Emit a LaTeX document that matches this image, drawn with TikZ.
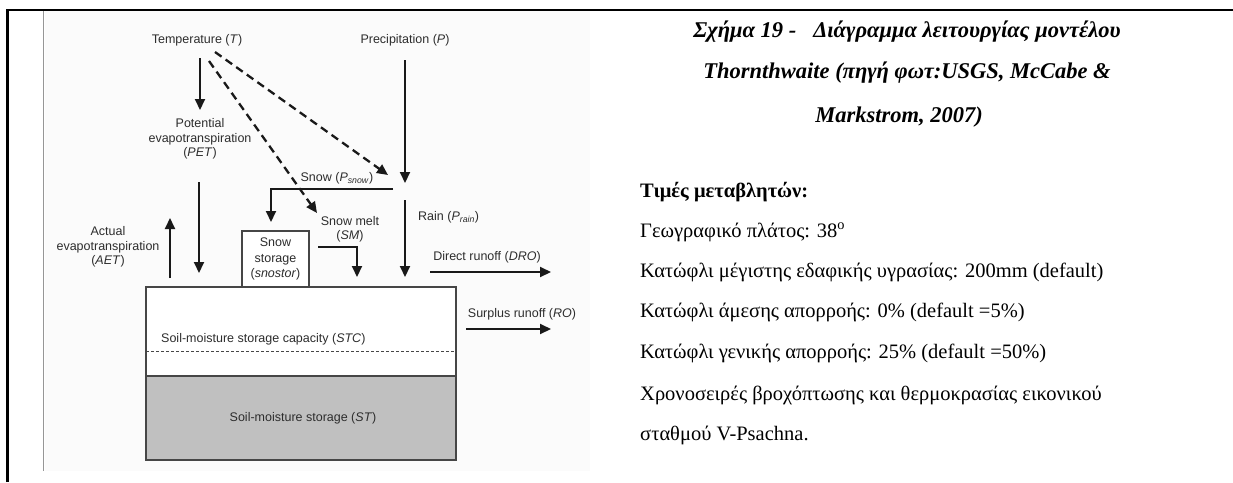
\documentclass[tikz,border=0pt]{standalone}
\usepackage{fontspec}
\setmainfont{Liberation Serif}
\newfontfamily\diagfont{Liberation Sans}
\usetikzlibrary{arrows.meta}
\definecolor{txtgray}{RGB}{45,45,45}
\definecolor{soilgray}{RGB}{192,192,192}
\definecolor{photobg}{RGB}{251,251,251}
\definecolor{edgegray}{RGB}{70,70,70}
\definecolor{sepgray}{RGB}{150,150,150}
\begin{document}
\begin{tikzpicture}[x=1pt,y=-1pt,
  lbl/.style={font=\diagfont\fontsize{12.5}{14.5}\selectfont, text=txtgray, inner sep=0pt, align=center},
  flow/.style={line width=2pt, draw=black!90, -{Triangle[length=11pt,width=10pt]}},
  dflow/.style={line width=2.3pt, draw=black!90, dash pattern=on 8pt off 5pt, -{Triangle[length=11pt,width=10pt]}},
  boxline/.style={draw=edgegray, line width=1.3pt},
  titletext/.style={font=\bfseries\itshape\fontsize{22.5}{27}\selectfont, inner sep=0pt},
  bodytext/.style={font=\fontsize{20.5}{24}\selectfont, inner sep=0pt, anchor=west}
]
\useasboundingbox (0,0) rectangle (1233,482);
% page frame
\fill[photobg] (44.5,11) rectangle (590,471);
\draw[line width=2.5pt] (7.5,482) -- (7.5,10) -- (1233,10);
\draw[sepgray, line width=1.5pt] (43.5,11) -- (43.5,471);

% soil boxes
\draw[boxline, fill=white] (146,287) rectangle (456,376);
\draw[boxline, fill=soilgray] (146,376) rectangle (456,460);
\draw[edgegray, line width=0.9pt, dash pattern=on 3pt off 2pt] (146,351) -- (456,351);
\node[lbl, anchor=west] (stc) at (161,339) {Soil-moisture storage capacity (\textit{STC})};
\node[lbl] (st) at (303,418) {Soil-moisture storage (\textit{ST})};

% snow storage box
\node[lbl, boxline, fill=white, minimum width=67pt, minimum height=56pt, font=\diagfont\fontsize{12.5}{15.5}\selectfont] (snostor) at (275.5,259) {Snow\\storage\\(\textit{snostor})};

% labels
\node[lbl] (T) at (197,40) {Temperature (\textit{T})};
\node[lbl] (P) at (405,40) {Precipitation (\textit{P})};
\node[lbl] (PET) at (200,139) {Potential\\evapotranspiration\\(\textit{PET})};
\node[lbl] (AET) at (108,247) {Actual\\evapotranspiration\\(\textit{AET})};
\node[lbl] (snow) at (337,178) {Snow (\textit{P}\textsubscript{\textit{snow}})};
\node[lbl, anchor=west] (rain) at (418,217) {Rain (\textit{P}\textsubscript{\textit{rain}})};
\node[lbl] (SM) at (350,229.5) {Snow melt\\(\textit{SM})};
\node[lbl] (DRO) at (487,257) {Direct runoff (\textit{DRO})};
\node[lbl] (RO) at (522,314) {Surplus runoff (\textit{RO})};

% connector end points
\coordinate (tA) at (200,58);   \coordinate (petIn) at (200,110);
\coordinate (tB) at (209,61);   \coordinate (smIn) at (317,213);
\coordinate (tC) at (215,52);   \coordinate (split) at (388,175);
\coordinate (pA) at (405,60);   \coordinate (pB) at (405,183);
\coordinate (snowA) at (393,189); \coordinate (snowB) at (271,222);
\coordinate (rainA) at (405,200); \coordinate (rainB) at (405,277);
\coordinate (smA) at (318,247); \coordinate (smB) at (357,277);
\coordinate (petA) at (199,182); \coordinate (petB) at (199,273);
\coordinate (aetA) at (170,278); \coordinate (aetB) at (170,218);
\coordinate (droA) at (430,272); \coordinate (droB) at (551,272);
\coordinate (roA) at (466,329); \coordinate (roB) at (551,329);

\draw[flow] (tA) -- (petIn);
\draw[dflow] (tB) -- (smIn);
\draw[dflow] (tC) -- (split);
\draw[flow] (pA) -- (pB);
\draw[flow] (snowA) -| (snowB);
\draw[flow] (rainA) -- (rainB);
\draw[flow] (smA) -| (smB);
\draw[flow] (petA) -- (petB);
\draw[flow] (aetA) -- (aetB);
\draw[flow] (droA) -- (droB);
\draw[flow] (roA) -- (roB);

% right-hand text
\node[titletext] (t1) at (907,32) {Σχήμα 19 -\hspace{17pt}Διάγραμμα λειτουργίας μοντέλου};
\node[titletext] (t2) at (907,73) {Thornthwaite (πηγή φωτ:USGS, McCabe \&};
\node[titletext] (t3) at (899,117) {Markstrom, 2007)};

\node[bodytext, font=\bfseries\fontsize{20.5}{24}\selectfont] (b0) at (640,192) {Τιμές μεταβλητών:};
\node[bodytext] (b1) at (640,232) {Γεωγραφικό πλάτος: 38\textsuperscript{o}};
\node[bodytext] (b2) at (640,272) {Κατώφλι μέγιστης εδαφικής υγρασίας: 200mm (default)};
\node[bodytext] (b3) at (640,312) {Κατώφλι άμεσης απορροής: 0\% (default =5\%)};
\node[bodytext] (b4) at (640,353) {Κατώφλι γενικής απορροής: 25\% (default =50\%)};
\node[bodytext] (b5) at (640,395) {Χρονοσειρές βροχόπτωσης και θερμοκρασίας εικονικού};
\node[bodytext] (b6) at (640,435) {σταθμού V-Psachna.};
\end{tikzpicture}
\end{document}
